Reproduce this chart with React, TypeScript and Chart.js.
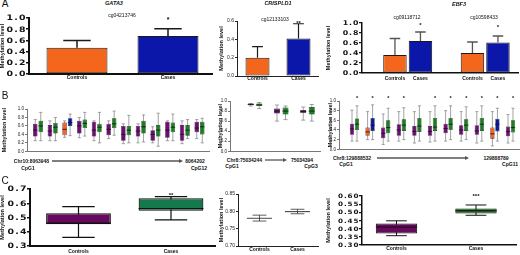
import React, { useEffect, useRef } from 'react';
import { Chart, registerables } from 'chart.js';

Chart.register(...registerables);

// ---------------- DATA ----------------
// Panel A – GATA3 (cg04213746)
const A_GATA3_GROUPS = ['Controls', 'Cases'];
const A_GATA3_MEAN = [0.47, 0.68];
const A_GATA3_SD = [0.13, 0.13];
const A_GATA3_SIG = ['', '*'];
const A_GATA3_SIG_Y = [0, 0.98];
const A_GATA3_YTICKS = ['0.0', '0.2', '0.4', '0.6', '0.8', '1.0'];

// Panel A – CRISPLD1 (cg12133103)
const A_CRISP_GROUPS = ['Controls', 'Cases'];
const A_CRISP_MEAN = [0.2, 0.41];
const A_CRISP_SD = [0.12, 0.16];
const A_CRISP_SIG = ['', '**'];
const A_CRISP_SIG_Y = [0, 0.59];
const A_CRISP_YTICKS = ['0.0', '0.2', '0.4', '0.6'];

// Panel A – EBF3 (two probes)
const A_EBF3_PROBES = ['cg09118712', 'cg10598433'];
const A_EBF3_CTRL_MEAN = [0.36, 0.4];
const A_EBF3_CTRL_SD = [0.33, 0.22];
const A_EBF3_CASE_MEAN = [0.64, 0.61];
const A_EBF3_CASE_SD = [0.18, 0.13];
const A_EBF3_SIG = ['*', '*'];
const A_EBF3_SIG_Y = [0.98, 0.94];
const A_EBF3_YTICKS = ['0.0', '0.2', '0.4', '0.6', '0.8', '1.0'];

// Panel B – GATA3 CpG1..CpG12 (box plots)
const B_GATA3_CPG = ['CpG1', 'CpG2', 'CpG3', 'CpG4', 'CpG5', 'CpG6', 'CpG7', 'CpG8', 'CpG9', 'CpG10', 'CpG11', 'CpG12'];
const B_GATA3_CTRL_MIN = [0.25, 0.25, 0.33, 0.32, 0.25, 0.3, 0.18, 0.2, 0.2, 0.25, 0.18, 0.3];
const B_GATA3_CTRL_Q1 = [0.35, 0.35, 0.38, 0.42, 0.35, 0.38, 0.25, 0.35, 0.25, 0.32, 0.25, 0.45];
const B_GATA3_CTRL_MED = [0.5, 0.48, 0.52, 0.6, 0.5, 0.52, 0.4, 0.48, 0.4, 0.5, 0.4, 0.55];
const B_GATA3_CTRL_Q3 = [0.65, 0.62, 0.68, 0.72, 0.7, 0.65, 0.6, 0.6, 0.5, 0.7, 0.62, 0.7];
const B_GATA3_CTRL_MAX = [0.75, 0.72, 0.72, 0.8, 0.72, 0.72, 0.65, 0.65, 0.58, 0.72, 0.72, 0.75];
const B_GATA3_CASE_MIN = [0.25, 0.25, 0.37, 0.36, 0.2, 0.38, 0.2, 0.22, 0.12, 0.25, 0.3, 0.2];
const B_GATA3_CASE_Q1 = [0.45, 0.42, 0.6, 0.55, 0.45, 0.55, 0.38, 0.42, 0.35, 0.45, 0.37, 0.4];
const B_GATA3_CASE_MED = [0.6, 0.57, 0.68, 0.66, 0.57, 0.65, 0.5, 0.58, 0.5, 0.57, 0.5, 0.58];
const B_GATA3_CASE_Q3 = [0.72, 0.67, 0.78, 0.75, 0.65, 0.78, 0.6, 0.72, 0.62, 0.68, 0.62, 0.7];
const B_GATA3_CASE_MAX = [0.92, 0.8, 0.88, 0.92, 0.92, 0.95, 0.85, 0.86, 0.9, 0.88, 0.75, 0.78];
const B_GATA3_HIGHLIGHT = [2];
const B_YTICKS = ['0.0', '0.2', '0.4', '0.6', '0.8', '1.0'];

// Panel B – CRISPLD1 CpG1..CpG3
const B_CRISP_CPG = ['CpG1', 'CpG2', 'CpG3'];
const B_CRISP_CTRL_MIN = [0.9, 0.6, 0.62];
const B_CRISP_CTRL_Q1 = [0.92, 0.75, 0.76];
const B_CRISP_CTRL_MED = [0.93, 0.8, 0.79];
const B_CRISP_CTRL_Q3 = [0.95, 0.85, 0.82];
const B_CRISP_CTRL_MAX = [0.95, 0.92, 0.88];
const B_CRISP_CASE_MIN = [0.85, 0.63, 0.6];
const B_CRISP_CASE_Q1 = [0.9, 0.73, 0.73];
const B_CRISP_CASE_MED = [0.92, 0.8, 0.8];
const B_CRISP_CASE_Q3 = [0.95, 0.87, 0.88];
const B_CRISP_CASE_MAX = [0.97, 0.9, 0.93];

// Panel B – EBF3 CpG1..CpG11
const B_EBF3_CPG = ['CpG1', 'CpG2', 'CpG3', 'CpG4', 'CpG5', 'CpG6', 'CpG7', 'CpG8', 'CpG9', 'CpG10', 'CpG11'];
const B_EBF3_CTRL_MIN = [0.17, 0.2, 0.1, 0.17, 0.13, 0.15, 0.17, 0.17, 0.13, 0.07, 0.13];
const B_EBF3_CTRL_Q1 = [0.3, 0.28, 0.23, 0.28, 0.28, 0.28, 0.33, 0.3, 0.3, 0.22, 0.27];
const B_EBF3_CTRL_MED = [0.42, 0.36, 0.33, 0.4, 0.37, 0.37, 0.43, 0.4, 0.38, 0.32, 0.37];
const B_EBF3_CTRL_Q3 = [0.53, 0.45, 0.45, 0.52, 0.48, 0.48, 0.53, 0.5, 0.5, 0.45, 0.47];
const B_EBF3_CTRL_MAX = [0.81, 0.78, 0.73, 0.78, 0.78, 0.78, 0.8, 0.78, 0.78, 0.78, 0.72];
const B_EBF3_CASE_MIN = [0.17, 0.2, 0.17, 0.2, 0.17, 0.17, 0.2, 0.2, 0.17, 0.17, 0.17];
const B_EBF3_CASE_Q1 = [0.4, 0.38, 0.33, 0.38, 0.36, 0.38, 0.4, 0.38, 0.38, 0.37, 0.35];
const B_EBF3_CASE_MED = [0.52, 0.5, 0.45, 0.5, 0.48, 0.46, 0.52, 0.5, 0.52, 0.52, 0.45];
const B_EBF3_CASE_Q3 = [0.64, 0.65, 0.6, 0.62, 0.65, 0.65, 0.65, 0.62, 0.65, 0.63, 0.6];
const B_EBF3_CASE_MAX = [0.9, 0.92, 0.85, 0.86, 0.9, 0.9, 0.9, 0.88, 0.9, 0.85, 0.85];
const B_EBF3_SIG = ['*', '*', '*', '*', '', '*', '*', '*', '*', '*', '*'];
const B_EBF3_SIG_Y = [1.08, 1.08, 1.08, 1.08, 1.08, 1.08, 1.08, 1.08, 1.08, 1.08, 1.08];
const B_EBF3_HIGHLIGHT = [1, 9];

// Panel C – summary box plots
const C_GROUPS = ['Controls', 'Cases'];
const C_GATA3_MIN = [0.36, 0.484];
const C_GATA3_Q1 = [0.453, 0.547];
const C_GATA3_MED = [0.46, 0.563];
const C_GATA3_Q3 = [0.53, 0.635];
const C_GATA3_MAX = [0.577, 0.647];
const C_GATA3_SIG = ['', '**'];
const C_GATA3_SIG_Y = [0, 0.665];
const C_GATA3_YTICKS = ['0.3', '0.4', '0.5', '0.6', '0.7'];

const C_CRISP_MIN = [0.772, 0.793];
const C_CRISP_Q1 = [0.779, 0.798];
const C_CRISP_MED = [0.78, 0.799];
const C_CRISP_Q3 = [0.781, 0.8];
const C_CRISP_MAX = [0.789, 0.806];
const C_CRISP_YTICKS = ['0.70', '0.75', '0.80', '0.85'];

const C_EBF3_MIN = [0.357, 0.482];
const C_EBF3_Q1 = [0.371, 0.493];
const C_EBF3_MED = [0.41, 0.51];
const C_EBF3_Q3 = [0.432, 0.523];
const C_EBF3_MAX = [0.448, 0.545];
const C_EBF3_SIG = ['', '***'];
const C_EBF3_SIG_Y = [0, 0.607];
const C_EBF3_YTICKS = ['0.30', '0.35', '0.40', '0.45', '0.50', '0.55', '0.60'];

// ---------------- STYLE ----------------
const ORANGE = '#f4661b';
const BLUE = '#0b17a8';
const PURPLE = '#6b1072';
const GREEN = '#1e7c24';
const C_PURPLE = '#650a5c';
const C_GREEN = '#147a4d';
const C3_GREEN = '#1b6f1b';
const SANS = '"Liberation Sans", Arial, sans-serif';
const WIDE = '"DejaVu Sans", sans-serif';

type Box = { min: number[]; q1: number[]; med: number[]; q3: number[]; max: number[] };
type Series = {
  color: string | string[];
  border: string | string[];
  borderWidth?: number;
  values?: number[];
  errors?: number[];
  box?: Box;
  sig?: string[];
  sigY?: number[];
  under?: string;
};
type Panel = {
  x0: number; x1: number; yTop: number; yBot: number; tx: number;
  c0: number; cN: number; n: number;
  catPct: number; barPct: number;
  yTicks: string[];
  wide?: { size: number; spacing: number; sx: number; gap: number };
  smallTick?: number;
  axisColor: string; axisWidth: number;
  xLabels?: string[]; labelPad?: number; xH: number; underY?: number;
  series: Series[];
  whisker?: { color: string; width: number; cap: number };
  median?: { color: string; width: number };
  err?: { color: string; width: number; cap: number };
  sigFont?: number;
};

const PAD_T = 9;
const PAD_R = 3;

function highlight(n: number, idx: number[], base: string, hi: string) {
  return Array.from({ length: n }, (_, i) => (idx.includes(i) ? hi : base));
}

function drawWide(ctx: CanvasRenderingContext2D, text: string, right: number, y: number, size: number, spacing: number, sx: number) {
  ctx.save();
  ctx.font = `bold ${size}px ${WIDE}`;
  ctx.fillStyle = '#111';
  ctx.textBaseline = 'middle';
  ctx.textAlign = 'left';
  const chars = [...text];
  const ws = chars.map((c) => ctx.measureText(c).width * sx);
  const total = ws.reduce((a, b) => a + b, 0) + spacing * (chars.length - 1);
  let x = right - total;
  chars.forEach((c, k) => {
    ctx.save();
    ctx.translate(x, y);
    ctx.scale(sx, 1);
    ctx.fillText(c, 0, 0);
    ctx.restore();
    x += ws[k] + spacing;
  });
  ctx.restore();
}

function geometry(p: Panel) {
  const left = Math.round(p.tx - 2.75);
  const yW = p.x0 - left;
  return {
    left,
    top: p.yTop - PAD_T,
    width: yW + (p.x1 - p.x0) + PAD_R,
    height: PAD_T + (p.yBot - p.yTop) + p.xH,
    yW,
  };
}

function makeConfig(p: Panel): any {
  const g = geometry(p);
  const s = (p.cN - p.c0) / (p.n - 1);
  const xmin = -(p.c0 - p.x0) / s;
  const xmax = p.n - 1 + (p.x1 - p.cN) / s;
  const yVals = p.yTicks.map((t) => parseFloat(t));

  const datasets = p.series.map((se) => ({
    data: Array.from({ length: p.n }, (_, i) => ({
      x: i,
      y: se.box ? [se.box.q1[i], se.box.q3[i]] : se.values![i],
    })),
    backgroundColor: se.color,
    borderColor: se.border,
    borderWidth: se.borderWidth ?? 1,
    borderSkipped: false,
    categoryPercentage: p.catPct,
    barPercentage: p.barPct,
  }));

  const extras = {
    id: 'panelExtras',
    beforeDatasetsDraw(chart: any) {
      const ctx = chart.ctx as CanvasRenderingContext2D;
      const y = chart.scales.y;
      p.series.forEach((se, di) => {
        if (!se.box || !p.whisker) return;
        const meta = chart.getDatasetMeta(di);
        meta.data.forEach((el: any, i: number) => {
          const x = el.x;
          const w = el.width;
          const yMin = y.getPixelForValue(se.box!.min[i]);
          const yMax = y.getPixelForValue(se.box!.max[i]);
          const cw = (w * p.whisker!.cap) / 2;
          ctx.save();
          ctx.strokeStyle = p.whisker!.color;
          ctx.lineWidth = p.whisker!.width;
          ctx.beginPath();
          ctx.moveTo(x, yMax);
          ctx.lineTo(x, yMin);
          ctx.moveTo(x - cw, yMax);
          ctx.lineTo(x + cw, yMax);
          ctx.moveTo(x - cw, yMin);
          ctx.lineTo(x + cw, yMin);
          ctx.stroke();
          ctx.restore();
        });
      });
    },
    afterDatasetsDraw(chart: any) {
      const ctx = chart.ctx as CanvasRenderingContext2D;
      const y = chart.scales.y;
      p.series.forEach((se, di) => {
        const meta = chart.getDatasetMeta(di);
        meta.data.forEach((el: any, i: number) => {
          const x = el.x;
          const w = el.width;
          if (se.box && p.median) {
            const ym = y.getPixelForValue(se.box.med[i]);
            ctx.save();
            ctx.strokeStyle = p.median.color;
            ctx.lineWidth = p.median.width;
            ctx.beginPath();
            ctx.moveTo(x - w / 2, ym);
            ctx.lineTo(x + w / 2, ym);
            ctx.stroke();
            ctx.restore();
          }
          if (se.errors && se.values && p.err) {
            const yt = y.getPixelForValue(se.values[i]);
            const ye = y.getPixelForValue(se.values[i] + se.errors[i]);
            const cw = (w * p.err.cap) / 2;
            ctx.save();
            ctx.strokeStyle = p.err.color;
            ctx.lineWidth = p.err.width;
            ctx.beginPath();
            ctx.moveTo(x, yt);
            ctx.lineTo(x, ye);
            ctx.moveTo(x - cw, ye);
            ctx.lineTo(x + cw, ye);
            ctx.stroke();
            ctx.restore();
          }
          if (se.sig && se.sig[i] && se.sigY) {
            ctx.save();
            ctx.fillStyle = '#111';
            ctx.font = `bold ${p.sigFont ?? 6}px ${SANS}`;
            ctx.textAlign = 'center';
            ctx.textBaseline = 'middle';
            ctx.fillText(se.sig[i], x, y.getPixelForValue(se.sigY[i]) + 1);
            ctx.restore();
          }
          if (se.under && p.underY !== undefined) {
            ctx.save();
            ctx.fillStyle = '#111';
            ctx.font = `bold 5px ${SANS}`;
            ctx.textAlign = 'center';
            ctx.textBaseline = 'middle';
            ctx.fillText(se.under, x, chart.chartArea.bottom + p.underY);
            ctx.restore();
          }
        });
      });
    },
    afterDraw(chart: any) {
      if (!p.wide) return;
      const ctx = chart.ctx as CanvasRenderingContext2D;
      const y = chart.scales.y;
      y.ticks.forEach((t: any, i: number) => {
        drawWide(ctx, p.yTicks[i], y.right - p.wide!.gap, y.getPixelForValue(t.value) + 0.5, p.wide!.size, p.wide!.spacing, p.wide!.sx);
      });
    },
  };

  return {
    type: 'bar',
    data: { datasets },
    options: {
      responsive: false,
      animation: false,
      events: [],
      devicePixelRatio: 1,
      layout: { padding: { top: PAD_T, right: PAD_R, left: 0, bottom: 0 } },
      plugins: { legend: { display: false }, tooltip: { enabled: false }, title: { display: false } },
      scales: {
        x: {
          type: 'linear',
          min: xmin,
          max: xmax,
          offset: false,
          afterBuildTicks: (sc: any) => {
            sc.ticks = Array.from({ length: p.n }, (_, i) => ({ value: i }));
          },
          afterFit: (sc: any) => {
            sc.height = p.xH;
          },
          grid: { display: false, drawTicks: false, tickLength: 0, offset: false },
          border: { display: true, color: p.axisColor, width: p.axisWidth },
          ticks: {
            display: !!p.xLabels,
            autoSkip: false,
            maxRotation: 0,
            padding: p.labelPad ?? 1,
            color: '#111',
            font: { family: SANS, size: 5, weight: 'bold', lineHeight: 1.2 },
            callback: (v: any) => (p.xLabels ? p.xLabels[Math.round(v)] ?? '' : ''),
          },
        },
        y: {
          type: 'linear',
          min: yVals[0],
          max: yVals[yVals.length - 1],
          afterBuildTicks: (sc: any) => {
            sc.ticks = yVals.map((v) => ({ value: v }));
          },
          afterFit: (sc: any) => {
            sc.width = g.yW;
          },
          grid: {
            display: true,
            drawOnChartArea: false,
            drawTicks: true,
            tickLength: p.wide ? 3 : 2,
            color: p.axisColor,
            lineWidth: p.wide ? p.axisWidth * 0.75 : p.axisWidth,
          },
          border: { display: true, color: p.axisColor, width: p.axisWidth },
          ticks: {
            autoSkip: false,
            padding: 1,
            color: p.wide ? 'rgba(0,0,0,0)' : '#222',
            font: { family: SANS, size: p.smallTick ?? 5, lineHeight: 1.2 },
            callback: (_v: any, i: number) => p.yTicks[i],
          },
          title: {
            display: true,
            text: 'Methylation level',
            color: '#111',
            font: { family: SANS, size: 5.5, weight: 'bold', lineHeight: 1 },
            padding: { top: 0, bottom: 0 },
          },
        },
      },
    },
    plugins: [extras],
  };
}

// ---------------- PANELS ----------------
const ERR = { color: '#1a1a1a', width: 1.5, cap: 0.45 };

const PANELS: Panel[] = [
  {
    x0: 29, x1: 212, yTop: 18, yBot: 74, tx: 3, c0: 77, cN: 168, n: 2,
    catPct: 0.67, barPct: 1, yTicks: A_GATA3_YTICKS, wide: { size: 7.5, spacing: 1.2, sx: 1.25, gap: 3.5 },
    axisColor: '#111', axisWidth: 2, xLabels: A_GATA3_GROUPS, labelPad: 1, xH: 10,
    series: [{ color: [ORANGE, BLUE], border: '#1a1a1a', values: A_GATA3_MEAN, errors: A_GATA3_SD, sig: A_GATA3_SIG, sigY: A_GATA3_SIG_Y }],
    err: ERR, sigFont: 7,
  },
  {
    x0: 237, x1: 318, yTop: 21, yBot: 76, tx: 222, c0: 257.5, cN: 298.5, n: 2,
    catPct: 0.585, barPct: 1, yTicks: A_CRISP_YTICKS, smallTick: 5,
    axisColor: '#222', axisWidth: 1, xLabels: A_CRISP_GROUPS, labelPad: 0, xH: 9,
    series: [{ color: [ORANGE, BLUE], border: '#1a1a1a', values: A_CRISP_MEAN, errors: A_CRISP_SD, sig: A_CRISP_SIG, sigY: A_CRISP_SIG_Y }],
    err: { color: '#1a1a1a', width: 1.2, cap: 0.45 }, sigFont: 6,
  },
  {
    x0: 362, x1: 518, yTop: 23, yBot: 73, tx: 329, c0: 407.7, cN: 485.2, n: 2,
    catPct: 0.658, barPct: 0.92, yTicks: A_EBF3_YTICKS, wide: { size: 6.5, spacing: 1, sx: 1.2, gap: 3.5 },
    axisColor: '#111', axisWidth: 1.5, xH: 10, underY: 6,
    series: [
      { color: ORANGE, border: '#1a1a1a', values: A_EBF3_CTRL_MEAN, errors: A_EBF3_CTRL_SD, under: 'Controls' },
      { color: BLUE, border: '#1a1a1a', values: A_EBF3_CASE_MEAN, errors: A_EBF3_CASE_SD, sig: A_EBF3_SIG, sigY: A_EBF3_SIG_Y, under: 'Cases' },
    ],
    err: { color: '#555', width: 1.3, cap: 0.45 }, sigFont: 6,
  },
  {
    x0: 27, x1: 209, yTop: 109, yBot: 153, tx: 5, c0: 38, cN: 199.5, n: B_GATA3_CPG.length,
    catPct: 0.75, barPct: 0.82, yTicks: B_YTICKS, smallTick: 4.5,
    axisColor: '#777', axisWidth: 1, xH: 2,
    series: [
      { color: highlight(B_GATA3_CPG.length, B_GATA3_HIGHLIGHT, PURPLE, ORANGE), border: '#3a0a3e', borderWidth: 0.6,
        box: { min: B_GATA3_CTRL_MIN, q1: B_GATA3_CTRL_Q1, med: B_GATA3_CTRL_MED, q3: B_GATA3_CTRL_Q3, max: B_GATA3_CTRL_MAX } },
      { color: highlight(B_GATA3_CPG.length, B_GATA3_HIGHLIGHT, GREEN, BLUE), border: '#0d3d10', borderWidth: 0.6,
        box: { min: B_GATA3_CASE_MIN, q1: B_GATA3_CASE_Q1, med: B_GATA3_CASE_MED, q3: B_GATA3_CASE_Q3, max: B_GATA3_CASE_MAX } },
    ],
    whisker: { color: '#8a8a8a', width: 0.8, cap: 0.7 }, median: { color: '#111', width: 0.8 },
  },
  {
    x0: 230, x1: 320, yTop: 101, yBot: 153, tx: 221, c0: 255, cN: 307.5, n: B_CRISP_CPG.length,
    catPct: 0.65, barPct: 0.7, yTicks: B_YTICKS, smallTick: 4.5,
    axisColor: '#777', axisWidth: 1, xH: 2,
    series: [
      { color: PURPLE, border: '#3a0a3e', borderWidth: 0.6,
        box: { min: B_CRISP_CTRL_MIN, q1: B_CRISP_CTRL_Q1, med: B_CRISP_CTRL_MED, q3: B_CRISP_CTRL_Q3, max: B_CRISP_CTRL_MAX } },
      { color: GREEN, border: '#0d3d10', borderWidth: 0.6,
        box: { min: B_CRISP_CASE_MIN, q1: B_CRISP_CASE_Q1, med: B_CRISP_CASE_MED, q3: B_CRISP_CASE_Q3, max: B_CRISP_CASE_MAX } },
    ],
    whisker: { color: '#8a8a8a', width: 0.8, cap: 0.7 }, median: { color: '#111', width: 0.8 },
  },
  {
    x0: 339, x1: 519, yTop: 101, yBot: 151, tx: 331, c0: 354.5, cN: 510.5, n: B_EBF3_CPG.length,
    catPct: 0.64, barPct: 0.86, yTicks: B_YTICKS, smallTick: 4.5,
    axisColor: '#777', axisWidth: 1, xH: 2,
    series: [
      { color: highlight(B_EBF3_CPG.length, B_EBF3_HIGHLIGHT, PURPLE, ORANGE), border: '#3a0a3e', borderWidth: 0.6,
        box: { min: B_EBF3_CTRL_MIN, q1: B_EBF3_CTRL_Q1, med: B_EBF3_CTRL_MED, q3: B_EBF3_CTRL_Q3, max: B_EBF3_CTRL_MAX } },
      { color: highlight(B_EBF3_CPG.length, B_EBF3_HIGHLIGHT, GREEN, BLUE), border: '#0d3d10', borderWidth: 0.6,
        box: { min: B_EBF3_CASE_MIN, q1: B_EBF3_CASE_Q1, med: B_EBF3_CASE_MED, q3: B_EBF3_CASE_Q3, max: B_EBF3_CASE_MAX },
        sig: B_EBF3_SIG, sigY: B_EBF3_SIG_Y },
    ],
    whisker: { color: '#8a8a8a', width: 0.8, cap: 0.7 }, median: { color: '#111', width: 0.8 }, sigFont: 5.5,
  },
  {
    x0: 30, x1: 215, yTop: 189, yBot: 246, tx: 3, c0: 78.5, cN: 171, n: 2,
    catPct: 0.7, barPct: 1, yTicks: C_GATA3_YTICKS, wide: { size: 7.5, spacing: 1.2, sx: 1.25, gap: 3.5 },
    axisColor: '#111', axisWidth: 2, xLabels: C_GROUPS, labelPad: 3, xH: 10,
    series: [
      { color: [C_PURPLE, C_GREEN], border: '#111', borderWidth: 1.2,
        box: { min: C_GATA3_MIN, q1: C_GATA3_Q1, med: C_GATA3_MED, q3: C_GATA3_Q3, max: C_GATA3_MAX },
        sig: C_GATA3_SIG, sigY: C_GATA3_SIG_Y },
    ],
    whisker: { color: '#111', width: 1.2, cap: 0.5 }, median: { color: '#111', width: 1.2 }, sigFont: 6,
  },
  {
    x0: 238, x1: 318, yTop: 194, yBot: 246, tx: 222, c0: 259.5, cN: 297.5, n: 2,
    catPct: 0.66, barPct: 1, yTicks: C_CRISP_YTICKS, smallTick: 5,
    axisColor: '#222', axisWidth: 1, xLabels: C_GROUPS, labelPad: 1, xH: 9,
    series: [
      { color: '#ffffff', border: '#333', borderWidth: 0.8,
        box: { min: C_CRISP_MIN, q1: C_CRISP_Q1, med: C_CRISP_MED, q3: C_CRISP_Q3, max: C_CRISP_MAX } },
    ],
    whisker: { color: '#333', width: 0.8, cap: 0.55 }, median: { color: '#333', width: 0.8 },
  },
  {
    x0: 362, x1: 516, yTop: 196, yBot: 245, tx: 329, c0: 396.5, cN: 476, n: 2,
    catPct: 0.52, barPct: 1, yTicks: C_EBF3_YTICKS, wide: { size: 6, spacing: 0.9, sx: 1.2, gap: 3.5 },
    axisColor: '#111', axisWidth: 1.5, xLabels: C_GROUPS, labelPad: 1, xH: 9,
    series: [
      { color: [C_PURPLE, C3_GREEN], border: '#111', borderWidth: 1,
        box: { min: C_EBF3_MIN, q1: C_EBF3_Q1, med: C_EBF3_MED, q3: C_EBF3_Q3, max: C_EBF3_MAX },
        sig: C_EBF3_SIG, sigY: C_EBF3_SIG_Y },
    ],
    whisker: { color: '#111', width: 1, cap: 0.5 }, median: { color: '#111', width: 1 }, sigFont: 6,
  },
];

// ---------------- TEXT ANNOTATIONS ----------------
type Label = { t: string; x: number; y: number; size?: number; bold?: boolean; italic?: boolean };
const LABELS: Label[] = [
  { t: 'A', x: 5, y: 4, size: 10 },
  { t: 'B', x: 5, y: 96, size: 10 },
  { t: 'C', x: 5, y: 181, size: 10 },
  { t: 'GATA3', x: 114, y: 3.5, size: 5.5, bold: true, italic: true },
  { t: 'cg04213746', x: 122, y: 15, size: 5 },
  { t: 'CRISPLD1', x: 278, y: 3.5, size: 5.5, bold: true, italic: true },
  { t: 'cg12133103', x: 275, y: 19, size: 5 },
  { t: 'EBF3', x: 459, y: 5, size: 5.5, bold: true, italic: true },
  { t: A_EBF3_PROBES[0], x: 407, y: 17, size: 5 },
  { t: A_EBF3_PROBES[1], x: 484, y: 17, size: 5 },
  { t: 'Chr10:8063948', x: 31.5, y: 161, size: 5, bold: true },
  { t: 'CpG1', x: 28, y: 168, size: 5, bold: true },
  { t: '8064202', x: 195, y: 161, size: 5, bold: true },
  { t: 'CpG12', x: 199, y: 168, size: 5, bold: true },
  { t: 'Chr8:75034244', x: 244.5, y: 160, size: 5, bold: true },
  { t: 'CpG1', x: 232, y: 166, size: 5, bold: true },
  { t: '75034394', x: 302, y: 160, size: 5, bold: true },
  { t: 'CpG3', x: 311, y: 166, size: 5, bold: true },
  { t: 'Chr8:129888532', x: 352, y: 158, size: 5, bold: true },
  { t: 'CpG1', x: 346, y: 164, size: 5, bold: true },
  { t: '129888789', x: 496, y: 158, size: 5, bold: true },
  { t: 'CpG11', x: 510, y: 164, size: 5, bold: true },
];
const ARROWS = [
  { x1: 52, x2: 183, y: 161 },
  { x1: 265, x2: 287, y: 160 },
  { x1: 377, x2: 469, y: 158 },
];

function PanelChart({ p }: { p: Panel }) {
  const ref = useRef<HTMLCanvasElement | null>(null);
  const g = geometry(p);
  useEffect(() => {
    if (!ref.current) return;
    const chart = new Chart(ref.current, makeConfig(p));
    return () => chart.destroy();
  }, [p]);
  return (
    <div style={{ position: 'absolute', left: g.left, top: g.top, width: g.width, height: g.height }}>
      <canvas ref={ref} width={g.width} height={g.height} style={{ width: g.width, height: g.height, display: 'block' }} />
    </div>
  );
}

export default function App() {
  return (
    <div style={{ position: 'fixed', left: 0, top: 0, width: 520, height: 255, overflow: 'hidden', background: '#fff' }}>
      {PANELS.map((p, i) => (
        <PanelChart key={i} p={p} />
      ))}
      {LABELS.map((l, i) => (
        <div
          key={i}
          style={{
            position: 'absolute',
            left: l.x,
            top: l.y,
            transform: 'translate(-50%, -50%)',
            whiteSpace: 'nowrap',
            fontFamily: SANS,
            fontSize: l.size ?? 5,
            lineHeight: 1,
            fontWeight: l.bold ? 'bold' : 'normal',
            fontStyle: l.italic ? 'italic' : 'normal',
            color: '#111',
          }}
        >
          {l.t}
        </div>
      ))}
      <svg width={520} height={255} style={{ position: 'absolute', left: 0, top: 0, pointerEvents: 'none' }}>
        {ARROWS.map((a, i) => (
          <g key={i}>
            <line x1={a.x1} y1={a.y} x2={a.x2 - 3} y2={a.y} stroke="#555" strokeWidth={1.3} />
            <polygon points={`${a.x2},${a.y} ${a.x2 - 4},${a.y - 2} ${a.x2 - 4},${a.y + 2}`} fill="#555" />
          </g>
        ))}
      </svg>
    </div>
  );
}
